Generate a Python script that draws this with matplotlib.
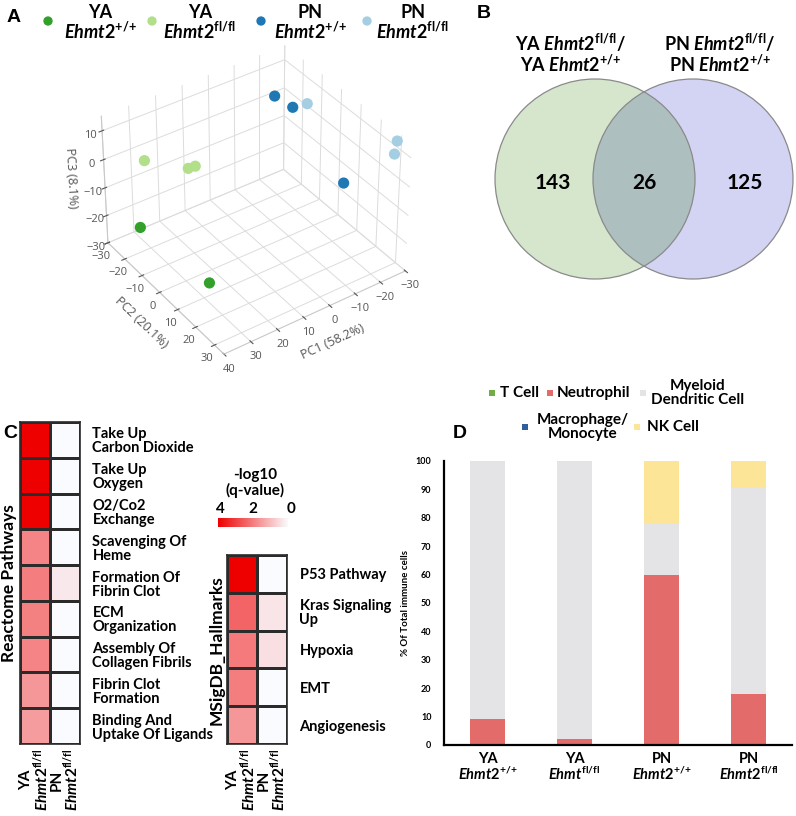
import numpy as np
import matplotlib
matplotlib.use('Agg')
import matplotlib.pyplot as plt
from matplotlib.patches import Circle, Rectangle
from matplotlib.colors import LinearSegmentedColormap

# ---------------- data ----------------
# Panel A: PCA (PC1, PC2, PC3) per group
pca_groups = ['YA +/+', 'YA fl/fl', 'PN +/+', 'PN fl/fl']
pca_pc1 = [[30, 32], [25, 15, 15], [-18, -20, -20], [-25, -30, -30]]
pca_pc2 = [[-26, 16], [-30, -20, -16], [-19, -12, 15], [-11, 28, 27]]
pca_pc3 = [[-26, -20], [-6, -7, -4], [7, 6, -6], [6, 12, 7]]
pca_colors = ['#33a02c', '#b2df8a', '#1f78b4', '#a6cee3']
pc_labels = ['PC1 (58.2%)', 'PC2 (20.1%)', 'PC3 (8.1%)']

# Panel B: Venn counts
venn_counts = [143, 26, 125]

# Panel C: heatmaps (-log10 q)
reactome_terms = ['Take Up\nCarbon Dioxide', 'Take Up\nOxygen', 'O2/Co2\nExchange',
                  'Scavenging Of\nHeme', 'Formation Of\nFibrin Clot', 'ECM\nOrganization',
                  'Assembly Of\nCollagen Fibrils', 'Fibrin Clot\nFormation',
                  'Binding And\nUptake Of Ligands']
reactome_ya = [4.0, 4.0, 4.0, 1.9, 2.0, 1.95, 1.9, 1.6, 1.5]
reactome_pn = [0.0, 0.0, 0.0, 0.0, 0.3, 0.0, 0.0, 0.0, 0.0]
hallmark_terms = ['P53 Pathway', 'Kras Signaling\nUp', 'Hypoxia', 'EMT', 'Angiogenesis']
hallmark_ya = [4.0, 2.4, 2.05, 2.0, 1.6]
hallmark_pn = [0.0, 0.35, 0.45, 0.0, 0.0]

# Panel D: % of total immune cells
d_age = ['YA', 'YA', 'PN', 'PN']
d_gene = ['Ehmt2', 'Ehmt', 'Ehmt2', 'Ehmt2']
d_geno = ['+/+', 'fl/fl', '+/+', 'fl/fl']
tcell = [0.0, 0.0, 0.0, 0.0]
neutrophil = [9.1, 2.0, 60.0, 17.8]
myeloid = [90.4, 97.7, 17.7, 73.1]
macrophage = [0.0, 0.0, 0.0, 0.0]
nkcell = [0.5, 0.3, 22.3, 9.1]
cell_types = ['T Cell', 'Neutrophil', 'Myeloid\nDendritic Cell', 'Macrophage/\nMonocyte', 'NK Cell']
cell_colors = ['#70ad47', '#e36c6a', '#e4e4e6', '#2e5f99', '#fde598']

# ---------------- style ----------------
W, H = 796, 816
plt.rcParams['font.family'] = ['Lato', 'DejaVu Sans']
plt.rcParams['mathtext.fontset'] = 'custom'
plt.rcParams['mathtext.rm'] = 'Lato:bold'
plt.rcParams['mathtext.it'] = 'Lato:italic:bold'
plt.rcParams['mathtext.bf'] = 'Lato:bold'

fig = plt.figure(figsize=(W / 100, H / 100), dpi=100)


def rect(x0, y0, x1, y1):
    return [x0 / W, 1 - y1 / H, (x1 - x0) / W, (y1 - y0) / H]


def gene(sup, name='Ehmt2'):
    s = sup.replace('+', '{+}')
    return r'$\mathit{%s}^{\mathrm{%s}}$' % (name, s)


# ---------------- Panel A ----------------
ax3 = fig.add_axes(rect(0, 0, 500, 400), projection='3d')
ax3.view_init(elev=37, azim=55)
for p1, p2, p3, col in zip(pca_pc1, pca_pc2, pca_pc3, pca_colors):
    ax3.scatter(p1, p2, p3, s=65, c=col, depthshade=False, edgecolors='none', alpha=1)
ax3.set_xlim(-30, 40)
ax3.set_ylim(-30, 35)
ax3.set_zlim(-30, 15)
ax3.set_xticks(range(-30, 41, 10))
ax3.set_yticks(range(-30, 31, 10))
ax3.set_zticks(range(-30, 11, 10))
ax3.set_xlabel(pc_labels[0], fontsize=9, color='#555555', labelpad=-2, family='Open Sans')
ax3.set_ylabel(pc_labels[1], fontsize=9, color='#555555', labelpad=-2, family='Open Sans')
ax3.set_zlabel(pc_labels[2], fontsize=9, color='#555555', labelpad=-4, family='Open Sans')
for axis in (ax3.xaxis, ax3.yaxis, ax3.zaxis):
    axis.set_pane_color((1, 1, 1, 0))
    axis._axinfo['grid']['color'] = '#dcdcdc'
    axis._axinfo['grid']['linewidth'] = 0.7
    axis._axinfo['tick']['color'] = (1, 1, 1, 0)
    axis.line.set_color('#c8c8c8')
    for lab in axis.get_ticklabels():
        lab.set_family('Open Sans')
ax3.tick_params(labelsize=8, colors='#555555', pad=-2)
ax3.set_box_aspect((1.05, 1, 0.75), zoom=0.84)

# ---------------- overlay ----------------
ov = fig.add_axes([0, 0, 1, 1])
ov.set_xlim(0, W)
ov.set_ylim(H, 0)
ov.axis('off')
ov.patch.set_alpha(0)

# panel letters
for lt, (x, y) in zip('ABCD', [(14, 17), (484, 13), (10, 433), (460, 433)]):
    ov.text(x, y, lt, fontsize=14, fontweight='bold', family='Liberation Sans', ha='center', va='center')

# Legend A
leg_dot_x = [48, 152, 261, 367]
leg_txt_x = [100, 200, 310, 413]
for i, g in enumerate(pca_groups):
    age, geno = g.split()
    ov.scatter([leg_dot_x[i]], [21], s=45, c=pca_colors[i], edgecolors='none')
    ov.text(leg_txt_x[i], 12, age, fontsize=13, fontweight='bold', ha='center', va='center')
    ov.text(leg_txt_x[i], 31, gene(geno), fontsize=13, ha='center', va='center')

# ---------------- Panel B ----------------
cl, cr, r = (595, 179), (693, 179), 100
c1 = Circle(cl, r, fc='#d5e6cd', ec='none')
c2 = Circle(cr, r, fc='#d3d3f4', ec='none')
ov.add_patch(c1)
ov.add_patch(c2)
lens = Circle(cr, r, fc='#aebfbf', ec='none')
ov.add_patch(lens)
lens.set_clip_path(c1)
ov.add_patch(Circle(cl, r, fc='none', ec='#8a8a8a', lw=0.9))
ov.add_patch(Circle(cr, r, fc='none', ec='#8a8a8a', lw=0.9))
for x, v in zip([553, 644, 745], venn_counts):
    ov.text(x, 183, str(v), fontsize=15, fontweight='bold', ha='center', va='center')
ov.text(571, 43, 'YA ' + gene('fl/fl') + '/', fontsize=13, fontweight='bold', ha='center', va='center')
ov.text(571, 64, 'YA ' + gene('+/+'), fontsize=13, fontweight='bold', ha='center', va='center')
ov.text(720, 43, 'PN ' + gene('fl/fl') + '/', fontsize=13, fontweight='bold', ha='center', va='center')
ov.text(720, 64, 'PN ' + gene('+/+'), fontsize=13, fontweight='bold', ha='center', va='center')

# ---------------- Panel C ----------------
cmap = LinearSegmentedColormap.from_list('wr', ['#fafbfe', '#ee0000'])


def heat(rc, ya, pn, terms):
    ax = fig.add_axes(rect(*rc))
    data = np.array([ya, pn]).T
    ax.pcolormesh(data, cmap=cmap, vmin=0, vmax=4, edgecolors='#2b2b2b', linewidth=1.0)
    ax.set_xlim(0, 2)
    ax.set_ylim(len(terms), 0)
    ax.yaxis.tick_right()
    ax.set_yticks(np.arange(len(terms)) + 0.5)
    ax.set_yticklabels(terms, fontsize=10.5, fontweight='bold', linespacing=1.0)
    ax.tick_params(axis='y', length=0, pad=9)
    ax.set_xticks([])
    for s in ax.spines.values():
        s.set_color('#2b2b2b')
        s.set_linewidth(1.2)
    return ax


heat((20, 422, 80, 744), reactome_ya, reactome_pn, reactome_terms)
heat((227, 555, 287, 744), hallmark_ya, hallmark_pn, hallmark_terms)
ov.text(9, 583, 'Reactome Pathways', rotation=90, fontsize=12.5, fontweight='bold', ha='center', va='center')
ov.text(217, 650, 'MSigDB_Hallmarks', rotation=90, fontsize=12.5, fontweight='bold', ha='center', va='center')
for cx, age in zip([35, 65, 242, 272], ['YA', 'PN', 'YA', 'PN']):
    ov.text(cx, 749, age + '\n' + gene('fl/fl'), rotation=90, fontsize=11, fontweight='bold',
            ha='center', va='top', linespacing=0.85, multialignment='center')

# colorbar
cax = fig.add_axes(rect(218, 518, 288, 527))
cax.imshow(np.linspace(4, 0, 200)[None, :], cmap=cmap, vmin=0, vmax=4, aspect='auto')
cax.axis('off')
ov.text(255, 483, '-log10\n(q-value)', fontsize=11, fontweight='bold', ha='center', va='center', linespacing=1.0)
for x, t in zip([220, 253, 291], ['4', '2', '0']):
    ov.text(x, 509, t, fontsize=11, fontweight='bold', ha='center', va='center')

# ---------------- Panel D ----------------
axd = fig.add_axes(rect(444, 461, 792, 745))
xpos = np.arange(len(d_age))
bottom = np.zeros(len(d_age))
for vals, col in zip([tcell, neutrophil, myeloid, macrophage, nkcell], cell_colors):
    axd.bar(xpos, vals, width=0.40, bottom=bottom, color=col, edgecolor='none')
    bottom = bottom + np.array(vals)
axd.set_xlim(-0.5, 3.5)
axd.set_ylim(0, 100)
axd.set_yticks(range(0, 101, 10))
axd.set_yticklabels([str(v) for v in range(0, 101, 10)], fontsize=6.5, fontweight='bold')
axd.tick_params(axis='y', length=0, pad=9)
axd.set_xticks(xpos)
axd.set_xticklabels([a + '\n' + gene(g, n) for a, n, g in zip(d_age, d_gene, d_geno)],
                    fontsize=10.5, fontweight='bold', linespacing=0.95)
axd.tick_params(axis='x', length=0, pad=5)
axd.set_ylabel('% Of Total immune cells', fontsize=7, fontweight='bold', labelpad=4)
for s in ['top', 'right']:
    axd.spines[s].set_visible(False)
for s in ['left', 'bottom']:
    axd.spines[s].set_linewidth(1.6)
axd.patch.set_alpha(0)

# legend D
leg_items = [(492, 393, 500, 'left'), (550, 393, 557, 'left'), (643, 393, 698, 'center'),
             (525, 427, 583, 'center'), (637, 427, 647, 'left')]
for (sx, sy, tx, ha), lab, col in zip(leg_items, cell_types, cell_colors):
    ov.add_patch(Rectangle((sx - 3, sy - 3), 6, 6, fc=col, ec='none'))
    ov.text(tx, sy, lab, fontsize=11, fontweight='bold', ha=ha, va='center', linespacing=0.95)

fig.savefig('out.png', dpi=100)
